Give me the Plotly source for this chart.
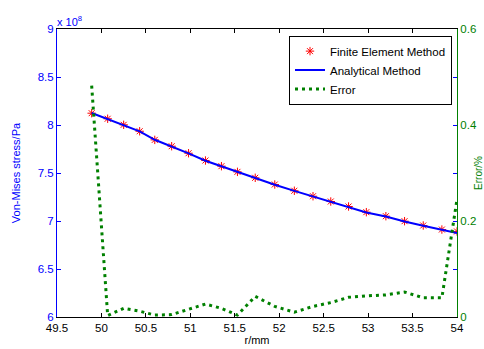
import plotly.graph_objects as go

# radius positions (mm)
r_mm = [49.89, 50.07, 50.25, 50.43, 50.60, 50.79, 50.98, 51.17, 51.35, 51.53, 51.73,
        51.95, 52.17, 52.38, 52.58, 52.78, 52.98, 53.20, 53.41, 53.62, 53.83, 54.00]
# Von-Mises stress, Finite Element Method (Pa)
fem_stress = [8.123e8, 8.065e8, 8.002e8, 7.935e8, 7.845e8, 7.779e8, 7.706e8, 7.630e8,
              7.571e8, 7.512e8, 7.450e8, 7.380e8, 7.315e8, 7.258e8, 7.203e8, 7.151e8,
              7.092e8, 7.050e8, 6.998e8, 6.953e8, 6.911e8, 6.891e8]
# Von-Mises stress, Analytical Method (Pa)
analytic_stress = [8.125e8, 8.064e8, 8.001e8, 7.934e8, 7.846e8, 7.779e8, 7.705e8, 7.628e8,
                   7.570e8, 7.512e8, 7.447e8, 7.378e8, 7.314e8, 7.256e8, 7.201e8, 7.148e8,
                   7.089e8, 7.047e8, 6.994e8, 6.950e8, 6.908e8, 6.874e8]
# Error (%)
error_pct = [0.482, 0.003, 0.018, 0.012, 0.004, 0.005, 0.016, 0.027, 0.018, 0.004, 0.043,
             0.022, 0.010, 0.022, 0.030, 0.041, 0.044, 0.046, 0.052, 0.040, 0.040, 0.245]

x_ticks = [49.5, 50, 50.5, 51, 51.5, 52, 52.5, 53, 53.5, 54]
x_tick_text = ["49.5", "50", "50.5", "51", "51.5", "52", "52.5", "53", "53.5", "54"]
y_ticks = [6e8, 6.5e8, 7e8, 7.5e8, 8e8, 8.5e8, 9e8]
y_tick_text = ["6", "6.5", "7", "7.5", "8", "8.5", "9"]
y2_ticks = [0, 0.2, 0.4, 0.6]
y2_tick_text = ["0", "0.2", "0.4", "0.6"]

BLUE = "#0000ff"
GREEN = "#008000"
FONT = "Arial, Liberation Sans, sans-serif"
TICK_SIZE = 11.5

fig = go.Figure()
fig.add_trace(go.Scatter(
    x=r_mm, y=fem_stress, mode="markers", name="Finite Element Method",
    marker=dict(symbol="asterisk-open", size=7, color="red",
                line=dict(color="red", width=1)),
    yaxis="y"))
fig.add_trace(go.Scatter(
    x=r_mm, y=analytic_stress, mode="lines", name="Analytical Method",
    line=dict(color=BLUE, width=2), yaxis="y"))
fig.add_trace(go.Scatter(
    x=r_mm, y=error_pct, mode="lines", name="Error",
    line=dict(color=GREEN, width=3, dash="3px,4px"), yaxis="y2"))

fig.update_layout(
    width=484, height=349,
    margin=dict(l=57, r=27, t=29, b=32, autoexpand=False),
    paper_bgcolor="white", plot_bgcolor="white",
    font=dict(family=FONT, size=11, color="black"),
    showlegend=True,
    legend=dict(x=0.9875, y=0.977, xanchor="right", yanchor="top",
                bgcolor="white", bordercolor="black", borderwidth=1,
                font=dict(size=11.5, color="black"), tracegroupgap=0),
    xaxis=dict(range=[49.5, 54], tickvals=x_ticks, ticktext=x_tick_text,
               showline=True, linecolor="black", linewidth=1, mirror="ticks",
               ticks="inside", ticklen=4, tickcolor="black", showgrid=False,
               zeroline=False, automargin=False, tickfont=dict(size=TICK_SIZE, color="black"),
               title=dict(text="r/mm", font=dict(size=11, color="black"), standoff=2)),
    yaxis=dict(range=[6e8, 9e8], tickvals=y_ticks, ticktext=y_tick_text,
               showline=True, linecolor=BLUE, linewidth=1,
               ticks="inside", ticklen=4, tickcolor=BLUE, showgrid=False,
               zeroline=False, automargin=False, tickfont=dict(size=TICK_SIZE, color=BLUE),
               title=dict(text="Von-Mises stress/Pa", font=dict(size=11, color=BLUE), standoff=14)),
    yaxis3=dict(range=[6e8, 9e8], tickvals=y_ticks, overlaying="y", side="right",
                showline=False, ticks="inside", ticklen=4, tickcolor=BLUE,
                showticklabels=False, showgrid=False, zeroline=False, automargin=False),
    yaxis2=dict(range=[0, 0.6], tickvals=y2_ticks, ticktext=y2_tick_text,
                overlaying="y", side="right",
                showline=True, linecolor=GREEN, linewidth=1,
                ticks="inside", ticklen=4, tickcolor=GREEN, showgrid=False,
                zeroline=False, automargin=False, tickfont=dict(size=TICK_SIZE, color=GREEN),
                title=dict(text="Error/%", font=dict(size=10, color=GREEN), standoff=16)),
    annotations=[dict(text="x 10<sup>8</sup>", xref="paper", yref="paper",
                      x=0, y=1, xanchor="left", yanchor="bottom", showarrow=False,
                      font=dict(size=11, color=BLUE), xshift=-2, yshift=-1)],
)
# dummy trace to show the mirrored blue ticks on the right
fig.add_trace(go.Scatter(x=[None], y=[None], yaxis="y3", showlegend=False, hoverinfo="skip"))

fig.write_html("out.html")
